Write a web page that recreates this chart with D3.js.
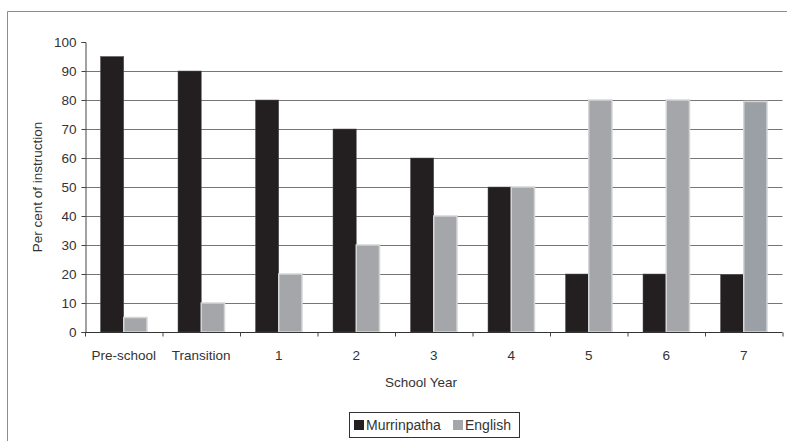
<!DOCTYPE html>
<html><head><meta charset="utf-8">
<script src="https://cdn.jsdelivr.net/npm/d3@7"></script>
<style>body{margin:0;background:#fff;} text{font-family:"Liberation Sans",Arial,sans-serif;fill:#333;}</style>
</head><body>
<svg id="c" width="787" height="441"></svg>
<script>
const categories = ["Pre-school","Transition","1","2","3","4","5","6","7"];
const seriesNames = ["Murrinpatha","English"];
const murrinpatha = [95,90,80,70,60,50,20,20,19.8];
const english = [5,10,20,30,40,50,80,80,79.5];
const yTicks = [0,10,20,30,40,50,60,70,80,90,100];
const colors = {"Murrinpatha":"#231f20","English":"#a5a6a9"};

const svg = d3.select("#c");
const m = {l:85, r:782.5, t:42, b:332};
const fs = 13.5;
// frame
svg.append("path").attr("d","M7.5,441 V11.5 H787").attr("fill","none").attr("stroke","#8c8c8c").attr("stroke-width",1);

const x = d3.scaleBand().domain(categories).range([m.l,m.r]).padding(0);
const x1 = d3.scaleBand().domain(seriesNames).range([x.bandwidth()*0.2, x.bandwidth()*0.8]).padding(0);
const y = d3.scaleLinear().domain([0,100]).range([m.b,m.t]);

// gridlines
svg.append("g").selectAll("line").data(yTicks.filter(v=>v>0 && v<100)).join("line")
  .attr("x1",m.l).attr("x2",m.r).attr("y1",d=>Math.round(y(d))+0.5).attr("y2",d=>Math.round(y(d))+0.5)
  .attr("stroke","#767676").attr("stroke-width",1);

const data = categories.map((c,i)=>({cat:c, vals:[{s:"Murrinpatha",v:murrinpatha[i]},{s:"English",v:english[i]}]}));
const g = svg.append("g").selectAll("g").data(data).join("g").attr("transform",d=>`translate(${x(d.cat)},0)`);
g.selectAll("rect").data(d=>d.vals).join("rect")
  .attr("x",d=>x1(d.s)).attr("width",x1.bandwidth())
  .attr("y",d=>y(d.v)).attr("height",d=>m.b-y(d.v))
  .attr("fill",d=>colors[d.s])
  .attr("stroke",d=>d.s==="English"?"#d4d5d6":"#555")
  .attr("stroke-width",d=>d.s==="English"?1.5:0.5);
// last English bar slightly bluish
g.filter(d=>d.cat==="7").selectAll("rect").filter(d=>d.s==="English").attr("fill","#9aa0a6");

// y axis
const ya = svg.append("g").attr("transform",`translate(${m.l+0.5},0)`)
  .call(d3.axisLeft(y).tickValues(yTicks).tickSize(4).tickPadding(5));
ya.select(".domain").attr("stroke","#444");
ya.selectAll(".tick line").attr("stroke","#444");
ya.selectAll("text").attr("font-size",fs).style("fill","#333");

// x axis
const xa = svg.append("g").attr("transform",`translate(0,${m.b+0.5})`);
xa.append("line").attr("x1",m.l).attr("x2",m.r).attr("stroke","#333").attr("stroke-width",1.2);
xa.selectAll("line.t").data(d3.range(categories.length+1)).join("line").attr("class","t")
  .attr("x1",i=>m.l+i*x.step()+0.5).attr("x2",i=>m.l+i*x.step()+0.5).attr("y1",0).attr("y2",4).attr("stroke","#444");
xa.selectAll("text").data(categories).join("text")
  .attr("x",d=>x(d)+x.bandwidth()/2).attr("y",27).attr("text-anchor","middle").attr("font-size",fs).text(d=>d);

// axis titles
svg.append("text").attr("x",421).attr("y",387).attr("text-anchor","middle").attr("font-size",fs).text("School Year");
svg.append("text").attr("transform","translate(42,187) rotate(-90)").attr("text-anchor","middle").attr("font-size",fs).text("Per cent of instruction");

// legend
const lg = svg.append("g");
lg.append("rect").attr("x",349.5).attr("y",412.5).attr("width",170).attr("height",25).attr("fill","#fff").attr("stroke","#333").attr("stroke-width",1);
const items = [{s:"Murrinpatha",x:354},{s:"English",x:453}];
items.forEach(it=>{
  lg.append("rect").attr("x",it.x).attr("y",420).attr("width",10).attr("height",10).attr("fill",colors[it.s]);
  lg.append("text").attr("x",it.x+12).attr("y",430).attr("font-size",14).text(it.s);
});
</script>
</body></html>
